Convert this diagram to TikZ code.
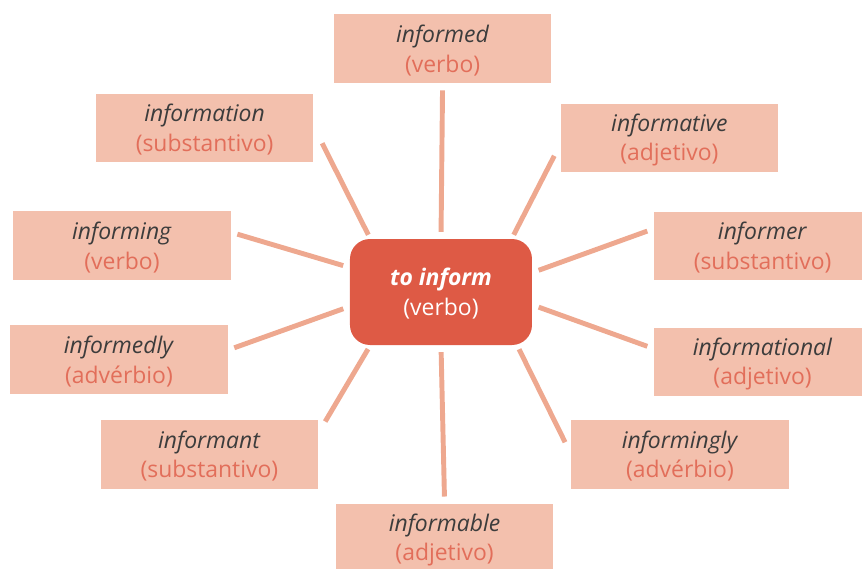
\documentclass[tikz,border=0pt]{standalone}
\usepackage{fontspec}
\setmainfont{Open Sans}
\usepackage{xcolor}
\usepackage{tikz}
\usetikzlibrary{shapes,calc,positioning}

\definecolor{hubred}{HTML}{DE5A45}
\definecolor{boxpink}{HTML}{F3C0AD}
\definecolor{spokepink}{HTML}{EEA88F}
\definecolor{wordgray}{HTML}{3C3C3C}
\definecolor{classred}{HTML}{E26E5A}

\newcommand{\wordbox}[2]{\rule{0pt}{15pt}\textit{#1}\\{\color{classred}(#2)}}

\begin{document}
\begin{tikzpicture}[spoke/.style = {line width=3.5pt, draw=spokepink, shorten <=0.17cm, shorten >=0.17cm}, node distance=2cm]
		\tikzset{word/.style={rectangle,inner sep=0pt,align=center,fill=boxpink,text=wordgray,minimum width=5.43cm,minimum height=1.72cm,font=\fontsize{16.3}{21}\selectfont}}
		\tikzset{diag/.style={spoke, shorten <=0.11cm, shorten >=0.34cm}}

		\useasboundingbox (-11.025,-6.925) rectangle (10.525,7.3);

		% Centre
		\node[rectangle, rounded corners=0.5cm, minimum width=4.55cm, minimum height=2.65cm, inner sep=0pt, fill=hubred, text=white, align=center, font=\fontsize{16.3}{21}\selectfont] (hub) {\rule{0pt}{15pt}\textbf{\textit{to inform}}\\(verbo)};

		% Top and bottom
		\node[word, above of=hub, node distance=6.08cm, xshift=0.04cm] (informed) {\wordbox{informed}{verbo}};
		\node[word, below of=hub, node distance=6.15cm, xshift=0.09cm] (informable) {\wordbox{informable}{adjetivo}};

		% Left side
		\node[word] (information) at (-5.91,4.10) {\wordbox{information}{substantivo}};
		\node[word] (informing) at (-7.975,1.16) {\wordbox{informing}{verbo}};
		\node[word] (informedly) at (-8.05,-1.69) {\wordbox{informedly}{advérbio}};
		\node[word] (informant) at (-5.79,-4.06) {\wordbox{informant}{substantivo}};

		% Right side
		\node[word] (informative) at (5.71,3.85) {\wordbox{informative}{adjetivo}};
		\node[word] (informer) at (8.04,1.15) {\wordbox{informer}{substantivo}};
		\node[word] (informational) at (8.04,-1.75) {\wordbox{informational}{adjetivo}};
		\node[word] (informingly) at (5.975,-4.06) {\wordbox{informingly}{advérbio}};

		% Spokes
		\draw [spoke] (hub.90) -- (informed.270);
		\draw [spoke] (hub.270) -- (informable.90);

		\draw [spoke] (hub.165) -- (informing.7);
		\draw [spoke] (hub.189) -- (informedly.5);
		\draw [spoke] (hub.12) -- (informer.171);
		\draw [spoke] (hub.352.5) -- (informational.173);

		\draw [diag, shorten >=0.48cm] (hub.143) -- (information.1);
		\draw [diag] (hub.37) -- (informative.183);
		\draw [diag] (hub.217) -- (informant.11);
		\draw [diag] (hub.325) -- (informingly.180);

	\end{tikzpicture}
\end{document}
